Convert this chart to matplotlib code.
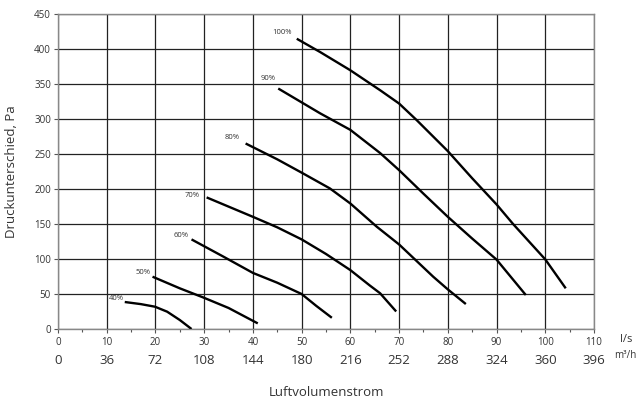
import matplotlib
matplotlib.use("Agg")
import matplotlib.pyplot as plt
import matplotlib.transforms as mtransforms
from matplotlib.ticker import MultipleLocator

plt.rcParams['font.family'] = ['Open Sans', 'DejaVu Sans']

# Data (x in l/s, y in Pa)
c40_x = [13.7, 17.0, 19.9, 22.4, 25.0, 27.4]
c40_y = [38.5, 35.5, 31.8, 24.7, 12.8, 0.0]
c50_x = [19.4, 25.0, 29.8, 35.0, 41.0]
c50_y = [74.6, 58.0, 45.0, 30.0, 8.0]
c60_x = [27.4, 34.0, 40.0, 45.0, 50.0, 53.0, 56.2]
c60_y = [127.8, 103.0, 80.0, 66.0, 49.9, 33.0, 16.0]
c70_x = [30.5, 40.0, 45.0, 50.0, 55.0, 60.0, 64.0, 66.1, 69.4]
c70_y = [187.7, 160.0, 145.0, 127.8, 107.0, 84.0, 62.0, 51.0, 25.0]
c80_x = [38.5, 45.0, 50.0, 55.8, 60.0, 65.4, 70.0, 77.0, 80.0, 83.7]
c80_y = [264.6, 242.0, 223.0, 200.5, 179.0, 146.0, 120.6, 74.6, 56.5, 35.6]
c90_x = [45.2, 53.8, 60.0, 66.1, 70.0, 75.0, 80.0, 85.0, 90.0, 96.0]
c90_y = [343.0, 307.6, 284.0, 251.0, 226.6, 193.0, 160.0, 129.0, 99.0, 48.5]
c100_x = [49.0, 53.8, 60.0, 66.1, 70.0, 73.6, 80.0, 85.0, 90.0, 93.4, 100.0, 104.2]
c100_y = [414.0, 395.0, 369.0, 340.6, 321.6, 298.0, 253.7, 215.0, 177.7, 149.7, 99.3, 58.0]

labels = ['40%', '50%', '60%', '70%', '80%', '90%', '100%']
label_x = [11.9, 17.4, 25.2, 27.6, 35.8, 43.1, 46.0]
label_y = [42.8, 81.0, 134.0, 191.0, 272.7, 357.8, 423.0]

ls_ticks = [0, 10, 20, 30, 40, 50, 60, 70, 80, 90, 100, 110]
m3h_labels = ['0', '36', '72', '108', '144', '180', '216', '252', '288', '324', '360', '396']
y_ticks = [0, 50, 100, 150, 200, 250, 300, 350, 400, 450]

curves = [(c40_x, c40_y), (c50_x, c50_y), (c60_x, c60_y), (c70_x, c70_y),
          (c80_x, c80_y), (c90_x, c90_y), (c100_x, c100_y)]

fig = plt.figure(figsize=(6.44, 4.04), dpi=100)
ax = fig.add_axes([58/644, 1 - 329/404, 536/644, 315.5/404])
ax.set_xlim(0, 110)
ax.set_ylim(0, 450)

txtc = '#333333'
ax.set_xticks(ls_ticks)
ax.set_yticks(y_ticks)
ax.xaxis.set_minor_locator(MultipleLocator(5))
ax.tick_params(axis='both', which='major', labelsize=7, colors='#555555',
               labelcolor=txtc, length=3, width=0.8, direction='out')
ax.tick_params(axis='x', which='minor', length=2.5, width=0.8, colors='#555555')
ax.tick_params(axis='x', pad=3)
ax.tick_params(axis='y', pad=2)
ax.grid(True, which='major', color='#222222', linewidth=0.9)
ax.set_axisbelow(True)
for s in ax.spines.values():
    s.set_color('#888888')
    s.set_linewidth(1.0)

for (xs, ys) in curves:
    ax.plot(xs, ys, color='black', linewidth=1.7, solid_capstyle='butt',
            solid_joinstyle='round', zorder=3)

for lab, lx, ly in zip(labels, label_x, label_y):
    ax.text(lx, ly, lab, fontsize=5.5, color=txtc, ha='center', va='center', zorder=4)

trans = mtransforms.blended_transform_factory(ax.transData, fig.transFigure)
for xv, lab in zip(ls_ticks, m3h_labels):
    ax.text(xv, 1 - 360/404, lab, transform=trans, fontsize=9.5, color=txtc,
            ha='center', va='center')

fig.text(620/644, 1 - 340/404, 'l/s', fontsize=8, color=txtc, ha='left', va='center')
fig.text(614/644, 1 - 355/404, 'm³/h', fontsize=7, color=txtc, ha='left', va='center')
fig.text(326/644, 1 - 392/404, 'Luftvolumenstrom', fontsize=9.5, color=txtc,
         ha='center', va='center')
fig.text(12/644, 1 - 172/404, 'Druckunterschied, Pa', fontsize=9.5, color=txtc,
         ha='center', va='center', rotation=90)

fig.savefig('out.png', dpi=100)
